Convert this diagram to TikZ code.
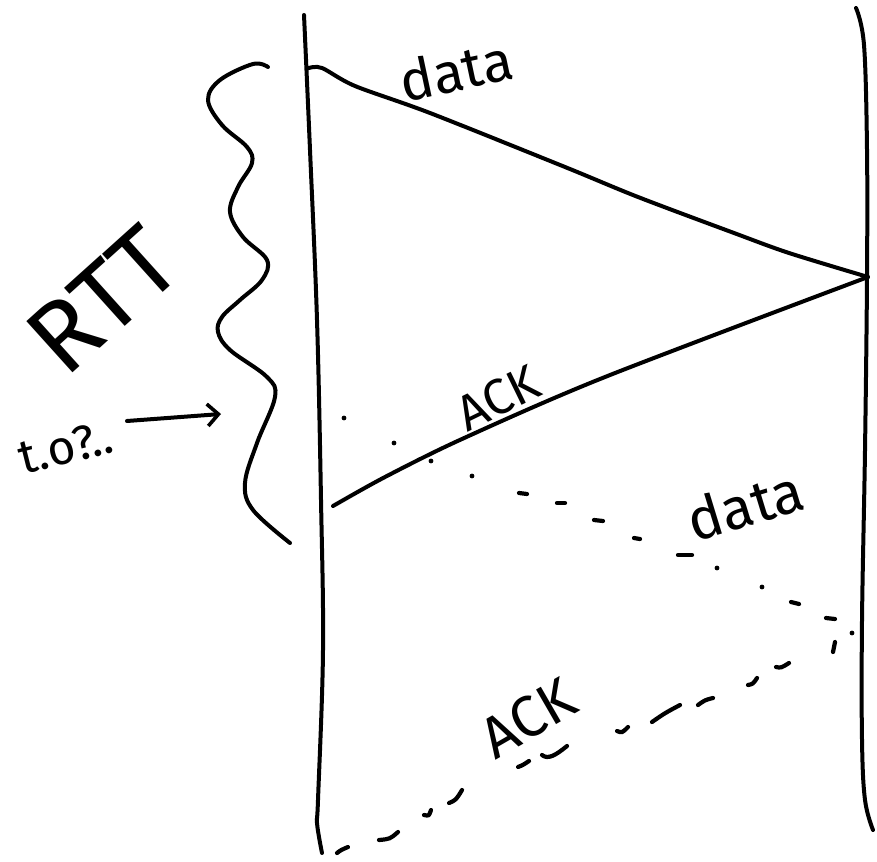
\documentclass[tikz,border=0pt]{standalone}
\usepackage{fontspec}
\setmainfont{Fira Sans}
\usetikzlibrary{arrows.meta}
\tikzset{
  pen/.style={line width=4pt, line cap=round, line join=round},
  dotpen/.style={line width=4.2pt, line cap=round},
  hand/.style={inner sep=0pt, text=black},
  barb/.style={-{Straight Barb[length=11pt,width=22pt,line width=3.6pt]}}
}
\begin{document}
\begin{tikzpicture}[x=1pt,y=-1pt]
\useasboundingbox (0,0) rectangle (877,861);

% time lines
\draw[pen] plot[smooth, tension=0.6] coordinates {(304,15) (310,150) (317,320) (321,500) (323,650) (318,800) (317,823) (322,853)};
\draw[pen] plot[smooth, tension=0.6] coordinates {(856,8) (864,45) (867,150) (867,277) (865,450) (862,620) (862,740) (865,800) (873,830)};

% named ends
\coordinate (dataS) at (309,68);
\coordinate (turn) at (868,277);
\coordinate (ackE) at (333,506);

% data (solid)
\draw[pen] plot[smooth, tension=0.5] coordinates {(dataS) (322,68) (355,86) (430,113) (565,167) (638,197) (734,233) (789,253) (turn)};
% ACK (solid)
\draw[pen] plot[smooth, tension=0.5] coordinates {(turn) (605,377) (462,439) (385,477) (ackE)};

% dotted data (retransmission)
\foreach \p in {(344,418),(394,443),(431,461),(472,476),(717,568),(762,587),(852,633)}
  \fill \p circle (2.4pt);
\foreach \a/\b in {{(519,493)}/{(527,494)},{(557,503)}/{(565,503)},{(594,520)}/{(603,521)},{(634,538)}/{(640,539)},{(678,555)}/{(692,555)},{(791,602)}/{(799,604)},{(826,618)}/{(835,619)}}
  \draw[dotpen] \a -- \b;

% dashed ACK (retransmission)
\draw[dotpen] (835,642) -- (833,652);
\draw[dotpen] (776,667) .. controls (781,668) .. (789,663);
\draw[dotpen] (748,685) .. controls (753,684) .. (757,678);
\draw[dotpen] (698,705) .. controls (705,700) .. (713,698);
\draw[dotpen] (652,722) .. controls (665,713) .. (680,705);
\draw[dotpen] (617,731) .. controls (622,733) .. (628,727);
\draw[dotpen] (542,755) .. controls (548,760) and (556,755) .. (567,746);
\draw[dotpen] (518,767) .. controls (523,765) .. (529,761);
\draw[dotpen] (449,803) .. controls (456,800) .. (462,790);
\draw[dotpen] (424,815) .. controls (429,816) .. (431,810);
\draw[dotpen] (379,840) .. controls (390,839) .. (398,832);
\draw[dotpen] (337,853) .. controls (341,850) .. (348,847);

% RTT wavy brace
\draw[pen] plot[smooth, tension=0.6] coordinates {(268,67) (253,64) (220,80) (208,100) (222,125) (247,147) (252,163) (238,187) (230,212) (243,237) (267,260) (262,280) (240,300) (222,317) (218,332) (230,350) (267,377) (275,397) (257,443) (245,483) (253,510) (290,543)};

% labels
\node[hand, rotate=12, font=\fontsize{56}{60}\selectfont] (data1) at (456,70) {data};
\node[hand, rotate=26, font=\fontsize{50}{56}\selectfont] (ack1) at (498,398) {ACK};
\node[hand, rotate=17, font=\fontsize{58}{62}\selectfont] (data2) at (745,505) {data};
\node[hand, rotate=30, font=\fontsize{58}{62}\selectfont] (ack2) at (528,718) {ACK};
\node[hand, rotate=42, font=\fontsize{100}{110}\selectfont] (rtt) at (103,300) {RTT};
\node[hand, rotate=14, font=\fontsize{48}{52}\selectfont] (to) at (66,447) {t.o?..};

% arrow to brace
\coordinate (arS) at (127,421);
\coordinate (arE) at (221,414);
\draw[pen, barb] (arS) -- (arE);
\end{tikzpicture}
\end{document}
